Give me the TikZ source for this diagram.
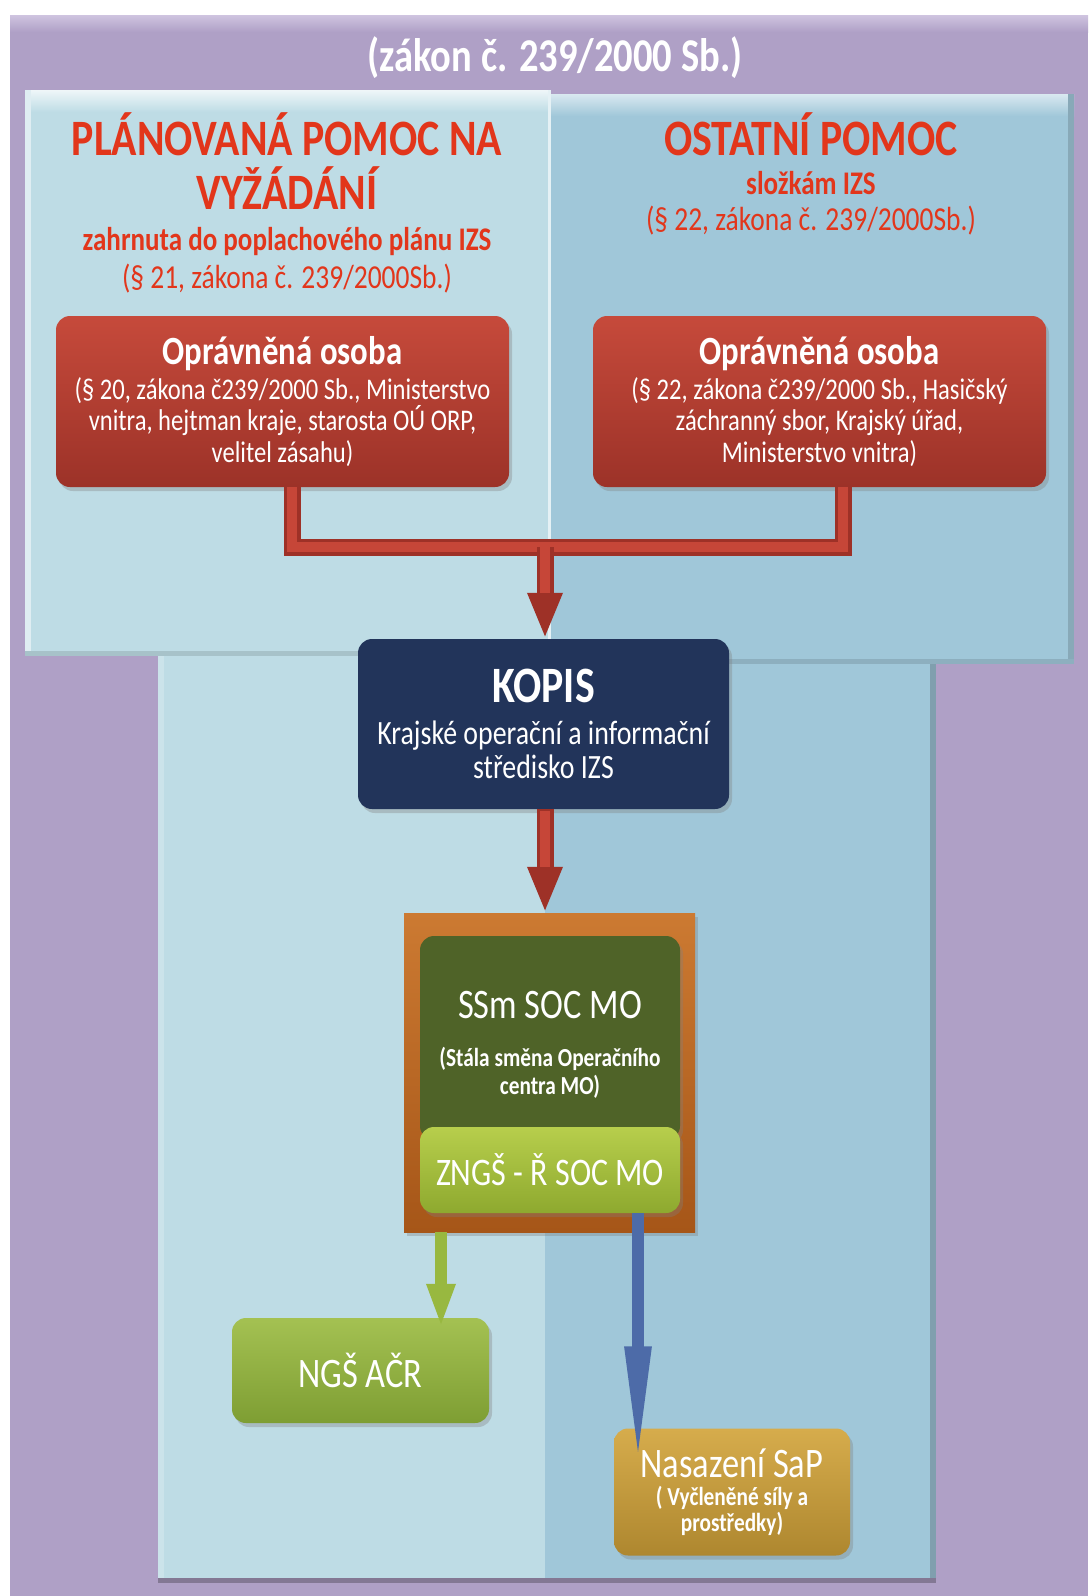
\documentclass[tikz,border=0pt]{standalone}
\usepackage{fontspec}
\setmainfont{Carlito}[FakeStretch=0.82]
\usetikzlibrary{arrows.meta,shadows}
\definecolor{purpleBG}{HTML}{AFA0C6}
\definecolor{purpleHL}{HTML}{CFC4E0}
\definecolor{panelL}{HTML}{BEDCE5}
\definecolor{panelR}{HTML}{A0C7D9}
\definecolor{hdrRed}{HTML}{E2361B}
\definecolor{redT}{HTML}{C64A3B}
\definecolor{redB}{HTML}{9C3228}
\definecolor{pipeD}{HTML}{9E3127}
\definecolor{pipeL}{HTML}{C64638}
\definecolor{navy}{HTML}{22345A}
\definecolor{brownT}{HTML}{CC7A32}
\definecolor{brownB}{HTML}{A65618}
\definecolor{greenD}{HTML}{4F6328}
\definecolor{limeT}{HTML}{B7CE4C}
\definecolor{limeB}{HTML}{8EA92F}
\definecolor{ngsT}{HTML}{A4C152}
\definecolor{ngsB}{HTML}{7E9E33}
\definecolor{goldT}{HTML}{D6AC4C}
\definecolor{goldB}{HTML}{AE872F}
\definecolor{arrBlue}{HTML}{4D6BA8}
\definecolor{arrGreen}{HTML}{98B840}
\tikzset{
  hdr/.style={text=hdrRed, inner sep=0pt, anchor=base},
  wtxt/.style={text=white, inner sep=0pt, align=center},
  box/.style={rounded corners=14pt, text=white, align=center, inner sep=0pt,
    drop shadow={opacity=0.35, shadow xshift=3pt, shadow yshift=-4pt}},
  redbox/.style={box, top color=redT, bottom color=redB, minimum width=453pt, minimum height=171pt,
    font=\fontsize{30}{31.5}\selectfont},
  redpipe/.style={draw=pipeD, line width=17pt},
  redcore/.style={draw=pipeL, line width=10pt},
  redtip/.style={-{Triangle[width=32pt,length=46pt]}},
}
\begin{document}
\begin{tikzpicture}[x=1pt,y=-1pt]
\useasboundingbox (0,0) rectangle (1088,1596);
\fill[white] (0,0) rectangle (1088,1596);
\fill[purpleBG] (10,15) rectangle (1088,1596);
\shade[top color=purpleHL, bottom color=purpleBG] (10,15) rectangle (1088,32);
% lower panels
\fill[panelL] (158,656) rectangle (545,1578);
\fill[panelR] (545,664) rectangle (936,1578);
\fill[white!20!panelL] (158,656) rectangle (164,1578);
\fill[black!20!panelR] (930,664) rectangle (936,1578);
\fill[black!25!purpleBG] (158,1578) rectangle (936,1583);
% upper panels
\fill[panelL] (25,90) rectangle (550,656);
\fill[panelR] (550,94) rectangle (1074,664);
\shade[top color=white!75!panelL, bottom color=panelL] (25,90) rectangle (550,112);
\shade[top color=white!60!panelR, bottom color=panelR] (550,94) rectangle (1074,116);
\fill[white!50!panelL] (25,90) rectangle (31,656);
\fill[black!15!panelR] (1068,94) rectangle (1074,664);
\fill[black!12!panelL] (25,651) rectangle (550,656);
\fill[black!12!panelR] (550,659) rectangle (1074,664);
\fill[white!60!panelL] (548,90) rectangle (551,656);

% title
\node[wtxt, anchor=base, font=\fontsize{47}{47}\selectfont\bfseries] (title) at (555,71) {(zákon č. 239/2000 Sb.)};

% headers
\node[hdr, font=\fontsize{51}{51}\selectfont\bfseries] (hL1) at (287,155) {PLÁNOVANÁ POMOC NA};
\node[hdr, font=\fontsize{51}{51}\selectfont\bfseries] (hL2) at (287,209) {VYŽÁDÁNÍ};
\node[hdr, font=\fontsize{33}{33}\selectfont\bfseries] (hL3) at (287,250) {zahrnuta do poplachového plánu IZS};
\node[hdr, font=\fontsize{33.5}{33.5}\selectfont] (hL4) at (287,288) {(§ 21, zákona č. 239/2000Sb.)};
\node[hdr, font=\fontsize{51}{51}\selectfont\bfseries] (hR1) at (811,155) {OSTATNÍ POMOC};
\node[hdr, font=\fontsize{33}{33}\selectfont\bfseries] (hR2) at (811,194) {složkám IZS};
\node[hdr, font=\fontsize{33.5}{33.5}\selectfont] (hR3) at (811,230) {(§ 22, zákona č. 239/2000Sb.)};

% red boxes
\node[redbox] (oL) at (282.5,401.5) {{\fontsize{40}{40}\selectfont\bfseries Oprávněná osoba}\\[3pt]
(§ 20, zákona č239/2000 Sb., Ministerstvo\\ vnitra, hejtman kraje, starosta OÚ ORP,\\ velitel zásahu)};
\node[redbox] (oR) at (819.5,401.5) {{\fontsize{40}{40}\selectfont\bfseries Oprávněná osoba}\\[3pt]
(§ 22, zákona č239/2000 Sb., Hasičský\\ záchranný sbor, Krajský úřad,\\ Ministerstvo vnitra)};

% KOPIS
\node[box, fill=navy, minimum width=371pt, minimum height=170pt, font=\fontsize{34}{34}\selectfont] (kopis) at (543.5,724)
 {{\fontsize{51}{51}\selectfont\bfseries KOPIS}\\[8pt] Krajské operační a informační\\ středisko IZS};

% SOC MO frame
\node[rectangle, top color=brownT, bottom color=brownB, minimum width=291pt, minimum height=319pt, inner sep=0pt,
  drop shadow={opacity=0.35, shadow xshift=3pt, shadow yshift=-4pt}] (frame) at (549.5,1072.5) {};
\node[box, fill=greenD, minimum width=260pt, minimum height=204pt] (ssm) at (550,1038) {};
\node[wtxt, font=\fontsize{26}{28}\selectfont\bfseries] (ssmtxt) at (550,1045)
 {{\fontsize{42}{42}\selectfont\mdseries SSm SOC MO}\\[20pt] (Stála směna Operačního\\ centra MO)};
\node[box, top color=limeT, bottom color=limeB, minimum width=260pt, minimum height=86pt,
  font=\fontsize{39}{39}\selectfont] (zngs) at (550,1170) {ZNGŠ - Ř SOC MO};

% NGS
\node[box, top color=ngsT, bottom color=ngsB, minimum width=257pt, minimum height=105pt,
  font=\fontsize{42}{42}\selectfont] (ngs) at (360.5,1370.5) {NGŠ AČR};
% Nasazeni
\node[box, top color=goldT, bottom color=goldB, minimum width=236pt, minimum height=127pt,
  font=\fontsize{26}{26}\selectfont\bfseries] (nas) at (732,1492)
 {{\fontsize{42}{42}\selectfont\mdseries Nasazení SaP}\\[2pt] ( Vyčleněné síly a\\ prostředky)};

% connectors
\coordinate (jl) at (292,547);
\coordinate (jr) at (843,547);
\coordinate (jm) at (545,547);
\coordinate (gx) at (441,0);
\coordinate (bx) at (638,0);
\draw[redpipe] (oL.south -| jl) -- (jl) -- (jr) -- (oR.south -| jr);
\draw[redcore] (oL.south -| jl) -- (jl) -- (jr) -- (oR.south -| jr);
\draw[redpipe, redtip, draw=pipeD, fill=pipeD] (jm) -- (kopis.north -| jm);
\draw[redcore, shorten >=46pt] (jm) -- (kopis.north -| jm);
\draw[redpipe, redtip, fill=pipeD] (kopis.south -| jm) -- (frame.north -| jm);
\draw[redcore, shorten >=46pt, shorten <=2pt] (kopis.south -| jm) -- (frame.north -| jm);
\draw[draw=arrGreen, line width=12pt, -{Triangle[width=26pt,length=44pt]}, shorten >=-10pt]
  (frame.south -| gx) -- (ngs.north -| gx);
\draw[draw=arrBlue, line width=12pt, -{Triangle[width=24pt,length=120pt]}, shorten >=-38pt]
  (zngs.south -| bx) -- (nas.north -| bx);
\end{tikzpicture}
\end{document}
